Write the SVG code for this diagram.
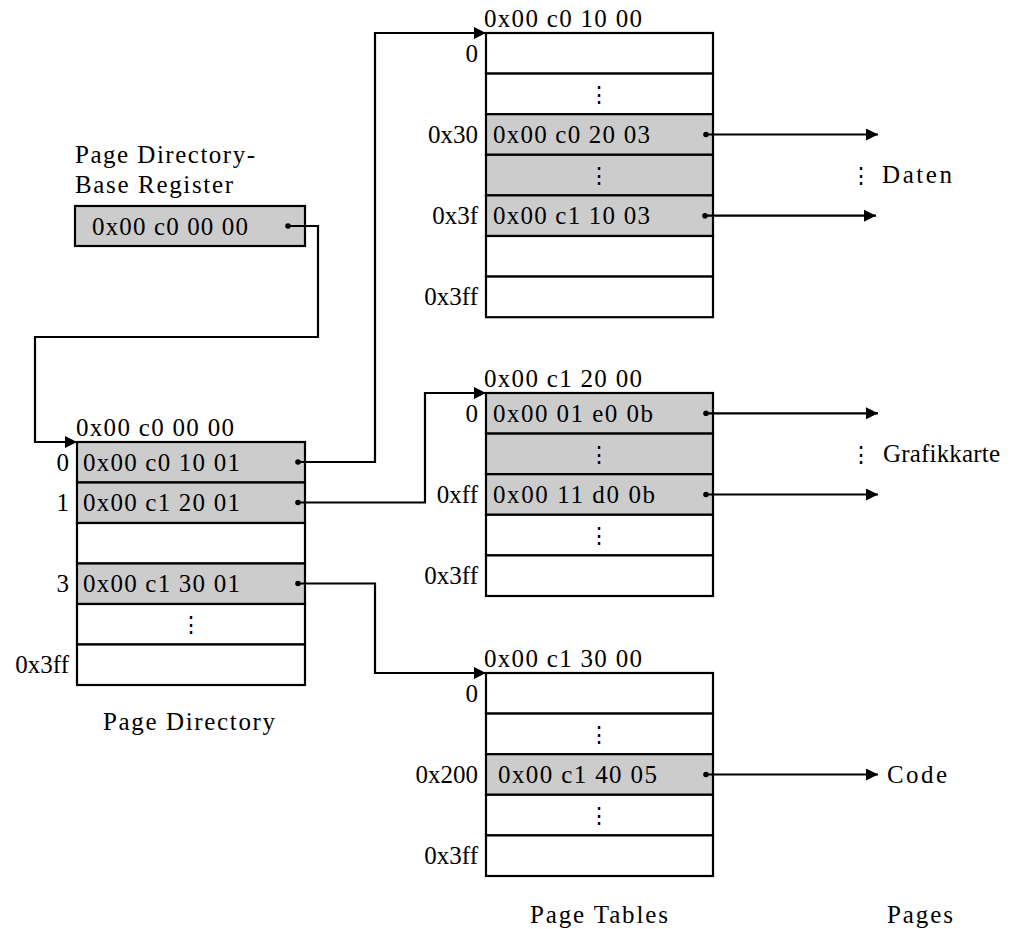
<svg xmlns="http://www.w3.org/2000/svg" width="1018" height="929" viewBox="0 0 1018 929">
<defs>
<style>
.t{font-family:"Liberation Serif","Times New Roman","DejaVu Serif",serif;font-size:25px;fill:#000}
.r{text-anchor:end}
.v{font-family:"DejaVu Serif",serif;font-size:22px;text-anchor:middle;fill:#000}
.w{fill:#fff;stroke:#000;stroke-width:2.2}
.g{fill:#cccccc;stroke:#000;stroke-width:2.2}
.c{fill:none;stroke:#000;stroke-width:2.2}
.d{fill:#000}
</style>
<marker id="ah" markerUnits="userSpaceOnUse" markerWidth="12" markerHeight="12" refX="12" refY="6" orient="auto">
<path d="M0,0 L12,6 L0,12 z" fill="#000"/>
</marker>
</defs>
<rect width="1018" height="929" fill="#fff"/>

<g id="register">
<text class="t" x="75" y="163" textLength="180">Page Directory-</text>
<text class="t" x="75" y="193" textLength="158">Base Register</text>
<rect class="g" x="75" y="206" width="230" height="40" stroke-width="2.8"/>
<text class="t" x="92" y="235" textLength="156">0x00 c0 00 00</text>
</g>

<g id="page-directory">
<text class="t" x="76" y="436" textLength="158">0x00 c0 00 00</text>
<rect class="g" x="77" y="442" width="228" height="40.5"/>
<rect class="g" x="77" y="482.5" width="228" height="40.5"/>
<rect class="w" x="77" y="523" width="228" height="40.5"/>
<rect class="g" x="77" y="563.5" width="228" height="40.5"/>
<rect class="w" x="77" y="604" width="228" height="40.5"/>
<rect class="w" x="77" y="644.5" width="228" height="40.5"/>
<text class="t" x="83" y="471" textLength="157">0x00 c0 10 01</text>
<text class="t" x="83" y="511" textLength="157">0x00 c1 20 01</text>
<text class="t" x="83" y="592" textLength="157">0x00 c1 30 01</text>
<text class="v" x="191" y="632">⋮</text>
<text class="t r" x="69" y="471">0</text>
<text class="t r" x="69" y="511">1</text>
<text class="t r" x="69" y="592">3</text>
<text class="t r" x="69" y="673">0x3ff</text>
<text class="t" x="103" y="730" textLength="172">Page Directory</text>
</g>

<g id="page-table-1">
<text class="t" x="484" y="27" textLength="158">0x00 c0 10 00</text>
<rect class="w" x="486" y="33" width="227" height="40.6"/>
<rect class="w" x="486" y="73.6" width="227" height="40.6"/>
<rect class="g" x="486" y="114.2" width="227" height="40.6"/>
<rect class="g" x="486" y="154.8" width="227" height="40.6"/>
<rect class="g" x="486" y="195.4" width="227" height="40.6"/>
<rect class="w" x="486" y="236" width="227" height="40.6"/>
<rect class="w" x="486" y="276.6" width="227" height="40.6"/>
<text class="v" x="599" y="102">⋮</text>
<text class="v" x="599" y="183">⋮</text>
<text class="t" x="493" y="143" textLength="157">0x00 c0 20 03</text>
<text class="t" x="493" y="224" textLength="157">0x00 c1 10 03</text>
<text class="t r" x="478" y="62">0</text>
<text class="t r" x="478" y="143">0x30</text>
<text class="t r" x="478" y="224">0x3f</text>
<text class="t r" x="478" y="305">0x3ff</text>
</g>

<g id="page-table-2">
<text class="t" x="484" y="387" textLength="158">0x00 c1 20 00</text>
<rect class="g" x="486" y="393" width="227" height="40.6"/>
<rect class="g" x="486" y="433.6" width="227" height="40.6"/>
<rect class="g" x="486" y="474.2" width="227" height="40.6"/>
<rect class="w" x="486" y="514.8" width="227" height="40.6"/>
<rect class="w" x="486" y="555.4" width="227" height="40.6"/>
<text class="t" x="493" y="422" textLength="160">0x00 01 e0 0b</text>
<text class="t" x="493" y="503" textLength="162">0x00 11 d0 0b</text>
<text class="v" x="599" y="462">⋮</text>
<text class="v" x="599" y="543">⋮</text>
<text class="t r" x="478" y="422">0</text>
<text class="t r" x="478" y="503">0xff</text>
<text class="t r" x="478" y="584">0x3ff</text>
</g>

<g id="page-table-3">
<text class="t" x="484" y="667" textLength="158">0x00 c1 30 00</text>
<rect class="w" x="486" y="673" width="227" height="40.6"/>
<rect class="w" x="486" y="713.6" width="227" height="40.6"/>
<rect class="g" x="486" y="754.2" width="227" height="40.6"/>
<rect class="w" x="486" y="794.8" width="227" height="40.6"/>
<rect class="w" x="486" y="835.4" width="227" height="40.6"/>
<text class="v" x="599" y="742">⋮</text>
<text class="v" x="599" y="823">⋮</text>
<text class="t" x="498" y="783" textLength="159">0x00 c1 40 05</text>
<text class="t r" x="478" y="702">0</text>
<text class="t r" x="478" y="783">0x200</text>
<text class="t r" x="478" y="864">0x3ff</text>
<text class="t" x="530" y="923" textLength="138">Page Tables</text>
</g>

<g id="pages">
<text class="v" x="861" y="183">⋮</text>
<text class="t" x="882" y="183" textLength="70">Daten</text>
<text class="v" x="861" y="462">⋮</text>
<text class="t" x="883" y="462" textLength="117">Grafikkarte</text>
<text class="t" x="887" y="783" textLength="60">Code</text>
<text class="t" x="887" y="923" textLength="66">Pages</text>
</g>

<g id="connectors">
<polyline class="c" points="288,226 318,226 318,337 35,337 35,442 77,442" marker-end="url(#ah)"/>
<polyline class="c" points="298,462 375,462 375,33 486,33" marker-end="url(#ah)"/>
<polyline class="c" points="298,502.5 425,502.5 425,393 486,393" marker-end="url(#ah)"/>
<polyline class="c" points="298,583.5 375,583.5 375,673 486,673" marker-end="url(#ah)"/>
<line class="c" x1="706" y1="134.5" x2="878" y2="134.5" marker-end="url(#ah)"/>
<line class="c" x1="706" y1="215.7" x2="876" y2="215.7" marker-end="url(#ah)"/>
<line class="c" x1="706" y1="413.3" x2="878" y2="413.3" marker-end="url(#ah)"/>
<line class="c" x1="706" y1="494.5" x2="878" y2="494.5" marker-end="url(#ah)"/>
<line class="c" x1="706" y1="774.5" x2="878" y2="774.5" marker-end="url(#ah)"/>
<circle class="d" cx="288" cy="226" r="2.8"/>
<circle class="d" cx="298" cy="462" r="2.8"/>
<circle class="d" cx="298" cy="502.5" r="2.8"/>
<circle class="d" cx="298" cy="583.5" r="2.8"/>
<circle class="d" cx="706" cy="134.5" r="2.8"/>
<circle class="d" cx="705" cy="215.7" r="2.8"/>
<circle class="d" cx="706" cy="413.3" r="2.8"/>
<circle class="d" cx="706" cy="494.5" r="2.8"/>
<circle class="d" cx="706" cy="774.5" r="2.8"/>
</g>
</svg>
